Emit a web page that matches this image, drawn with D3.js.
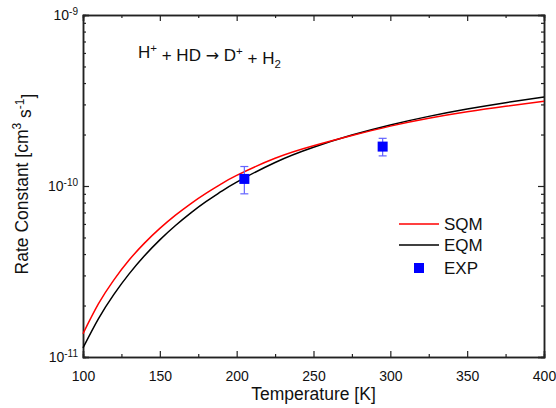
<!DOCTYPE html>
<html>
<head>
<meta charset="utf-8">
<script src="https://cdn.jsdelivr.net/npm/d3@7"></script>
<style>
  body { margin: 0; background: #fff; }
  svg { display: block; font-family: "Liberation Sans", Arial, sans-serif; }
</style>
</head>
<body>
<svg id="chart" width="556" height="408"></svg>
<script>
// ---- data ----
const temps = [100, 110, 120, 130, 140, 150, 160, 170, 180, 190, 200, 225, 250, 275, 300, 325, 350, 375, 400];
const sqmRate = [1.368e-11, 2.042e-11, 2.818e-11, 3.690e-11, 4.634e-11, 5.649e-11, 6.730e-11, 7.870e-11, 9.057e-11, 1.028e-10, 1.153e-10, 1.452e-10, 1.718e-10, 1.972e-10, 2.239e-10, 2.489e-10, 2.716e-10, 2.924e-10, 3.126e-10];
const eqmRate = [1.130e-11, 1.671e-11, 2.317e-11, 3.062e-11, 3.908e-11, 4.842e-11, 5.854e-11, 6.940e-11, 8.096e-11, 9.299e-11, 1.054e-10, 1.373e-10, 1.685e-10, 1.985e-10, 2.275e-10, 2.554e-10, 2.819e-10, 3.072e-10, 3.311e-10];
const expTemps = [205, 295];
const expRate = [1.1e-10, 1.7e-10];
const expErr = [0.2e-10, 0.2e-10];
const xTickValues = [100, 150, 200, 250, 300, 350, 400];
const xMinorValues = [125, 175, 225, 275, 325, 375];
const yTickValues = [1e-11, 1e-10, 1e-9];
const yTickExponents = ["-11", "-10", "-9"];
const legendLabels = ["SQM", "EQM", "EXP"];

// ---- layout ----
const svg = d3.select("#chart");
const L = 83, R = 544, T = 15, B = 357;
const x = d3.scaleLinear().domain([100, 400]).range([L, R]);
const y = d3.scaleLog().domain([1e-11, 1e-9]).range([B, T]);

const yMinor = [];
for (let e = -11; e < -9; e++) for (let m = 2; m <= 9; m++) yMinor.push(m * Math.pow(10, e));

const axisColor = "#222";
function styleAxis(g) {
  g.select(".domain").attr("stroke", axisColor).attr("stroke-width", 1.5);
  g.selectAll(".tick line").attr("stroke", axisColor).attr("stroke-width", 1.2);
}

// minor ticks
svg.append("g").attr("transform", `translate(0,${B})`)
  .call(d3.axisBottom(x).tickValues(xMinorValues).tickSize(-3).tickFormat(""))
  .call(styleAxis);
svg.append("g").attr("transform", `translate(0,${T})`)
  .call(d3.axisTop(x).tickValues(xMinorValues).tickSize(-3).tickFormat(""))
  .call(styleAxis);
svg.append("g").attr("transform", `translate(${L},0)`)
  .call(d3.axisLeft(y).tickValues(yMinor).tickSize(-3).tickFormat(""))
  .call(styleAxis);
svg.append("g").attr("transform", `translate(${R},0)`)
  .call(d3.axisRight(y).tickValues(yMinor).tickSize(-3).tickFormat(""))
  .call(styleAxis);

// major ticks
const xAxis = svg.append("g").attr("transform", `translate(0,${B})`)
  .call(d3.axisBottom(x).tickValues(xTickValues).tickSize(-6).tickPadding(14))
  .call(styleAxis);
xAxis.selectAll("text").attr("font-size", 14).attr("fill", "#111")
  .attr("font-family", "Liberation Sans, Arial, sans-serif");

svg.append("g").attr("transform", `translate(0,${T})`)
  .call(d3.axisTop(x).tickValues(xTickValues).tickSize(-6).tickFormat(""))
  .call(styleAxis);
svg.append("g").attr("transform", `translate(${R},0)`)
  .call(d3.axisRight(y).tickValues(yTickValues).tickSize(-6).tickFormat(""))
  .call(styleAxis);

const yAxis = svg.append("g").attr("transform", `translate(${L},0)`)
  .call(d3.axisLeft(y).tickValues(yTickValues).tickSize(-6).tickPadding(5).tickFormat(""))
  .call(styleAxis);
yAxis.selectAll(".tick text").each(function(d) {
  const t = d3.select(this);
  t.text(null).attr("font-size", 14).attr("fill", "#111").attr("dy", "0.35em")
   .attr("font-family", "Liberation Sans, Arial, sans-serif");
  t.append("tspan").text("10");
  t.append("tspan").attr("font-size", 10).attr("dy", "-0.55em").text(yTickExponents[yTickValues.indexOf(d)]);
});

// ---- curves ----
const line = d3.line().x(d => x(d[0])).y(d => y(d[1])).curve(d3.curveNatural);
svg.append("path").datum(temps.map((t, i) => [t, eqmRate[i]]))
  .attr("d", line).attr("fill", "none").attr("stroke", "#000").attr("stroke-width", 1.5);
svg.append("path").datum(temps.map((t, i) => [t, sqmRate[i]]))
  .attr("d", line).attr("fill", "none").attr("stroke", "#ff0000").attr("stroke-width", 1.5);

// ---- experimental points ----
const expG = svg.append("g");
expTemps.forEach((t, i) => {
  const cx = x(t), cy = y(expRate[i]);
  const yt = y(expRate[i] + expErr[i]), yb = y(expRate[i] - expErr[i]);
  expG.append("line").attr("x1", cx).attr("x2", cx).attr("y1", yt).attr("y2", yb)
    .attr("stroke", "#6464ff").attr("stroke-width", 1.2);
  [yt, yb].forEach(v => expG.append("line").attr("x1", cx - 4).attr("x2", cx + 4)
    .attr("y1", v).attr("y2", v).attr("stroke", "#6464ff").attr("stroke-width", 1.2));
  expG.append("rect").attr("x", cx - 5).attr("y", cy - 5).attr("width", 10).attr("height", 10)
    .attr("fill", "#0000ff");
});

// ---- annotation ----
const ann = svg.append("text").attr("x", 138).attr("y", 58).attr("font-size", 17).attr("fill", "#111");
ann.append("tspan").text("H");
ann.append("tspan").attr("font-size", 11.5).attr("dy", "-0.55em").text("+");
ann.append("tspan").attr("dy", "0.55em").text(" + HD ");
ann.append("tspan").attr("font-family", "DejaVu Sans").attr("font-size", 16).text("\u2192");
ann.append("tspan").text(" D");
ann.append("tspan").attr("font-size", 11.5).attr("dy", "-0.55em").text("+");
ann.append("tspan").attr("dy", "0.55em").text(" + H");
ann.append("tspan").attr("font-size", 11.5).attr("dy", "0.3em").text("2");

// ---- legend ----
const legY = [224, 245, 268];
const leg = svg.append("g");
leg.append("line").attr("x1", 399).attr("x2", 439).attr("y1", legY[0]).attr("y2", legY[0])
  .attr("stroke", "#ff0000").attr("stroke-width", 1.5);
leg.append("line").attr("x1", 399).attr("x2", 439).attr("y1", legY[1]).attr("y2", legY[1])
  .attr("stroke", "#000").attr("stroke-width", 1.5);
leg.append("rect").attr("x", 414).attr("y", legY[2] - 5).attr("width", 10).attr("height", 10).attr("fill", "#0000ff");
legendLabels.forEach((lab, i) => {
  leg.append("text").attr("x", 444).attr("y", legY[i] + 6).attr("font-size", 17).attr("fill", "#111").text(lab);
});

// ---- axis titles ----
svg.append("text").attr("x", (L + R) / 2).attr("y", 400).attr("text-anchor", "middle")
  .attr("font-size", 17.5).attr("fill", "#111").text("Temperature [K]");

const yl = svg.append("text").attr("transform", `translate(28,184) rotate(-90)`)
  .attr("text-anchor", "middle").attr("font-size", 17.5).attr("fill", "#111");
yl.append("tspan").text("Rate Constant [cm");
yl.append("tspan").attr("font-size", 12).attr("dy", "-0.55em").text("3");
yl.append("tspan").attr("dy", "0.55em").text(" s");
yl.append("tspan").attr("font-size", 12).attr("dy", "-0.55em").text("-1");
yl.append("tspan").attr("dy", "0.55em").text("]");
</script>
</body>
</html>
